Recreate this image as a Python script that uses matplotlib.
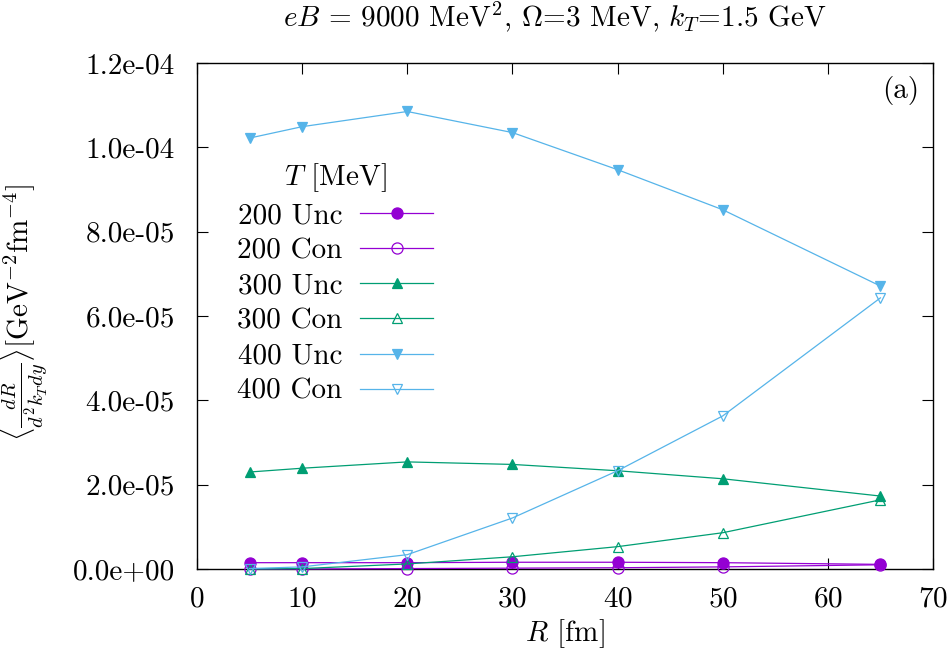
import matplotlib
matplotlib.use("Agg")
import matplotlib.pyplot as plt
from matplotlib.ticker import FuncFormatter, MultipleLocator

plt.rcParams["font.family"] = "cmr10"
plt.rcParams["mathtext.fontset"] = "cm"
plt.rcParams["axes.unicode_minus"] = False
plt.rcParams["axes.formatter.use_mathtext"] = True

# Data
R = [5, 10, 20, 30, 40, 50, 65]

t200_unc = [1.5e-6, 1.5e-6, 1.5e-6, 1.6e-6, 1.6e-6, 1.5e-6, 1.1e-6]
t200_con = [0.0, 0.0, 0.1e-6, 0.2e-6, 0.3e-6, 0.5e-6, 1.0e-6]
t300_unc = [2.30e-5, 2.39e-5, 2.54e-5, 2.48e-5, 2.33e-5, 2.14e-5, 1.73e-5]
t300_con = [0.0, 0.1e-6, 1.2e-6, 2.9e-6, 5.3e-6, 8.6e-6, 1.64e-5]
t400_unc = [1.022e-4, 1.049e-4, 1.085e-4, 1.035e-4, 9.47e-5, 8.52e-5, 6.71e-5]
t400_con = [0.1e-6, 0.5e-6, 3.4e-6, 1.21e-5, 2.33e-5, 3.63e-5, 6.43e-5]

purple = "#9400D3"
green = "#009E73"
blue = "#56B4E9"

FS = 21

fig = plt.figure(figsize=(9.47, 6.61), dpi=100)
ax = fig.add_axes([197 / 947, 1 - 569 / 661, (933 - 197) / 947, (569 - 63) / 661])

series = [
    (t200_unc, "200 Unc", purple, "o", True),
    (t200_con, "200 Con", purple, "o", False),
    (t300_unc, "300 Unc", green, "^", True),
    (t300_con, "300 Con", green, "^", False),
    (t400_unc, "400 Unc", blue, "v", True),
    (t400_con, "400 Con", blue, "v", False),
]

for vals, label, col, mk, filled in series:
    ax.plot(R, vals, color=col, lw=0.9, marker=mk, ms=7 if mk != "o" else 8,
            markerfacecolor=col if filled else "none", markeredgecolor=col,
            markeredgewidth=0.9, label=label, clip_on=False, zorder=3)

ax.set_xlim(0, 70)
ax.set_ylim(0, 1.2e-4)
ax.xaxis.set_major_locator(MultipleLocator(10))
ax.yaxis.set_major_locator(MultipleLocator(2e-5))


def sci(v, pos):
    return "%.1e" % v


ax.yaxis.set_major_formatter(FuncFormatter(sci))
ax.tick_params(direction="in", top=True, right=True, length=8, width=0.8,
               labelsize=FS)
ax.tick_params(axis="x", pad=12)
ax.tick_params(axis="y", pad=16)
for sp in ax.spines.values():
    sp.set_linewidth(1.0)

# axis labels and title placed in figure pixels like the reference
fig.text(565 / 947, 1 - 634 / 661, r"$R$ [fm]", ha="center", va="center", fontsize=FS)
fig.text(24 / 947, 1 - 312 / 661,
         r"$\langle\frac{dR}{d^2k_Tdy}\rangle$[GeV$^{-2}$fm$^{-4}$]",
         ha="center", va="center", rotation=90, fontsize=FS)
fig.text(0.586, 1 - 17 / 661, r"$eB$ = 9000 MeV$^2$, $\Omega$=3 MeV, $k_T$=1.5 GeV",
         ha="center", va="center", fontsize=FS)

ax.text(0.981, 0.975, "(a)", transform=ax.transAxes, ha="right", va="top", fontsize=FS)

leg = ax.legend(loc="upper left", bbox_to_anchor=(0.035, 0.835), frameon=False,
                markerfirst=False, fontsize=FS, title=r"$T$ [MeV]", title_fontsize=FS,
                handlelength=2.5, labelspacing=0.3, handletextpad=0.6, borderpad=0)

fig.savefig("out.png", dpi=100)
